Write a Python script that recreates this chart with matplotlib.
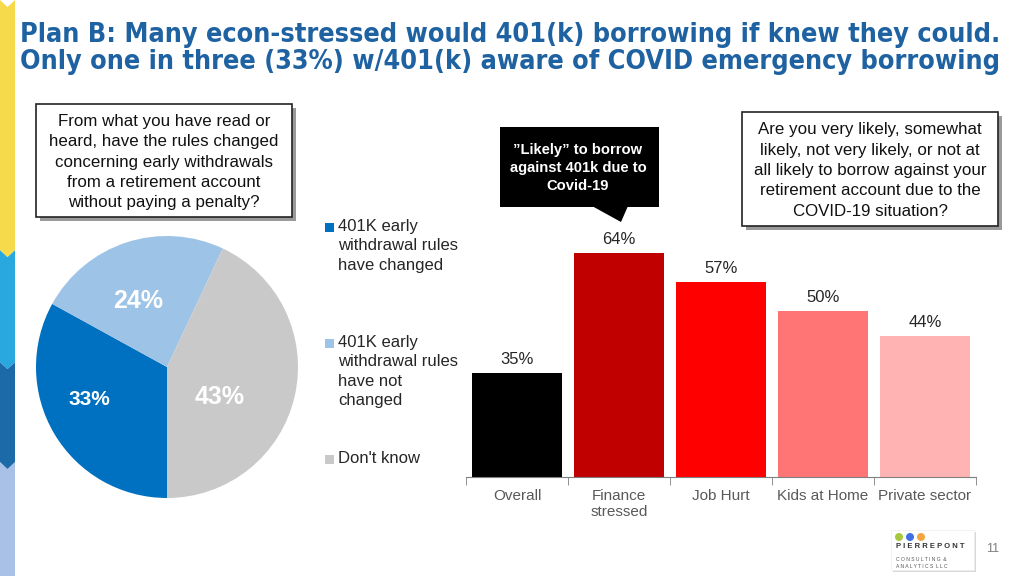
import matplotlib
matplotlib.use('Agg')
import matplotlib.pyplot as plt  # noqa E402
from matplotlib.patches import Rectangle, Polygon, Ellipse  # noqa E402

# Pie: awareness of rule change
pie_labels = ["401K early\nwithdrawal rules\nhave changed",
              "401K early\nwithdrawal rules\nhave not\nchanged",
              "Don't know"]
pie_values = [33, 24, 43]
pie_colors = ["#0070C0", "#9DC3E6", "#C9C9C9"]

# Bars: likely to borrow against 401k
bar_cats = ["Overall", "Finance\nstressed", "Job Hurt", "Kids at Home",
            "Private sector"]
bar_values = [35, 64, 57, 50, 44]
bar_colors = ["#000000", "#C00000", "#FF0000", "#FF7575", "#FFB3B3"]

TITLE = ("Plan B: Many econ-stressed would 401(k) borrowing if knew they could.\n"
         "Only one in three (33%) w/401(k) aware of COVID emergency borrowing")
LEFT_Q = ("From what you have read or\nheard, have the rules changed\n"
          "concerning early withdrawals\nfrom a retirement account\n"
          "without paying a penalty?")
RIGHT_Q = ("Are you very likely, somewhat\nlikely, not very likely, or not at\n"
           "all likely to borrow against your\nretirement account due to the\n"
           "COVID-19 situation?")
CALLOUT = "\u201dLikely\u201d to borrow\nagainst 401k due to\nCovid-19"

W, H = 1024, 576
plt.rcParams['font.family'] = ['Liberation Sans', 'DejaVu Sans']
fig = plt.figure(figsize=(W / 100, H / 100), dpi=100)


def fx(px):
    return px / W


def fy(py):
    return 1 - py / H


# Left decorative strip with chevrons
strip = [(0, 250, "#F7D94C"), (250, 362, "#29A8E0"),
         (362, 462, "#1D6AA8"), (462, 600, "#A9C0E7")]
sw, d = 15, 7
for i, (top, bot, col) in enumerate(reversed(strip)):
    pts = [(0, top), (sw / 2, top + d), (sw, top), (sw, bot),
           (sw / 2, bot + d), (0, bot)]
    fig.patches.append(Polygon([(fx(x), fy(y)) for x, y in pts],
                               closed=True, transform=fig.transFigure,
                               facecolor=col, edgecolor='none', zorder=i))

# Title (condensed face to mimic the narrow bold font)
fig.text(fx(20), fy(22), TITLE, ha='left', va='top', fontsize=19.4,
         fontweight='bold', fontstretch='condensed', color='#1F62A2',
         linespacing=1.05, family=['DejaVu Sans'])


def question_box(x0, y0, x1, y1, text, size):
    sh = Rectangle((fx(x0 + 4), fy(y1 + 4)), fx(x1 - x0), (y1 - y0) / H,
                   transform=fig.transFigure, facecolor='#9A9A9A',
                   edgecolor='none', zorder=1)
    bx = Rectangle((fx(x0), fy(y1)), fx(x1 - x0), (y1 - y0) / H,
                   transform=fig.transFigure, facecolor='white',
                   edgecolor='#222222', linewidth=1.2, zorder=2)
    fig.patches.extend([sh, bx])
    fig.text(fx((x0 + x1) / 2), fy((y0 + y1) / 2 + 1.5), text, ha='center',
             va='center', fontsize=size, color='#111111', linespacing=1.45,
             zorder=3)


question_box(36, 104, 292, 217, LEFT_Q, 12.2)
question_box(742, 112, 998, 226, RIGHT_Q, 12.2)

# Callout (black speech box)
fig.patches.append(Rectangle((fx(500), fy(207)), fx(159), 80 / H,
                             transform=fig.transFigure, facecolor='black',
                             edgecolor='none'))
fig.patches.append(Polygon([(fx(592), fy(206)), (fx(628), fy(206)),
                            (fx(621), fy(222))], closed=True,
                           transform=fig.transFigure, facecolor='black',
                           edgecolor='none'))
fig.text(fx(578), fy(168), CALLOUT, ha='center', va='center', fontsize=10.6,
         fontweight='bold', color='white', linespacing=1.35)

# Pie chart
ax_pie = fig.add_axes([fx(36), fy(498), fx(262), 262 / H])
wedges, _, autotexts = ax_pie.pie(pie_values, colors=pie_colors,
                                  startangle=-90, counterclock=False,
                                  autopct='%d%%', pctdistance=0.6,
                                  wedgeprops=dict(linewidth=0))
ax_pie.set_xlim(-1, 1)
ax_pie.set_ylim(-1, 1)
ax_pie.set_aspect('equal')
label_pos = [(-0.59, -0.25), (-0.22, 0.50), (0.40, -0.23)]
label_size = [15, 18, 18]
for t, pos, sz in zip(autotexts, label_pos, label_size):
    t.set_position(pos)
    t.set_color('white')
    t.set_fontweight('bold')
    t.set_fontsize(sz)
    t.set_ha('center')
    t.set_va('center')

# Legend drawn by hand (uneven spacing in the original)
leg_tops = [219, 335, 451]
for lab, col, top in zip(pie_labels, pie_colors, leg_tops):
    fig.patches.append(Rectangle((fx(325), fy(top + 13)), fx(9), 9 / H,
                                 transform=fig.transFigure, facecolor=col,
                                 edgecolor='none'))
    fig.text(fx(338), fy(top), lab, ha='left', va='top', fontsize=12,
             color='#262626', linespacing=1.36)

# Bar chart
ax = fig.add_axes([fx(466), fy(477), fx(510), 248.6 / H])
x = range(len(bar_values))
ax.bar(x, bar_values, width=0.89, color=bar_colors, bottom=0)
ax.set_ylim(10, 70)
ax.set_xlim(-0.5, len(bar_values) - 0.5)
for i, v in zip(x, bar_values):
    ax.text(i, v + 1.5, f"{v}%", ha='center', va='bottom', fontsize=12,
            color='#262626')
for s in ['top', 'right', 'left']:
    ax.spines[s].set_visible(False)
ax.spines['bottom'].set_color('#7F7F7F')
ax.set_yticks([])
ax.set_xticks(list(x))
ax.set_xticklabels(bar_cats, fontsize=11, color='#595959', linespacing=1.1)
ax.tick_params(axis='x', which='major', length=0, pad=9)
ax.set_xticks([i - 0.5 for i in range(len(bar_values) + 1)], minor=True)
ax.tick_params(axis='x', which='minor', length=6, color='#7F7F7F',
               direction='out')

# Logo and page number
fig.patches.append(Rectangle((fx(893), fy(572)), fx(83), 40 / H,
                             transform=fig.transFigure, facecolor='#D9D9D9',
                             edgecolor='none'))
fig.patches.append(Rectangle((fx(891), fy(570)), fx(83), 40 / H,
                             transform=fig.transFigure, facecolor='white',
                             edgecolor='#EEEEEE', linewidth=0.5))
for cx, col in zip([899, 910, 921], ["#A5C83C", "#3E6FE3", "#F3A53F"]):
    fig.patches.append(Ellipse((fx(cx), fy(537)), 8 / W, 8 / H,
                               transform=fig.transFigure, facecolor=col,
                               edgecolor='none'))
fig.text(fx(896), fy(547), "P I E R R E P O N T", ha='left', va='center',
         fontsize=5.5, color='#333333', fontweight='bold')
fig.text(fx(896), fy(563), "C O N S U L T I N G  &\nA N A L Y T I C S  L L C",
         ha='left', va='center', fontsize=3.6, color='#555555',
         linespacing=1.4)
fig.text(fx(993), fy(549), "11", ha='center', va='center', fontsize=9,
         color='#7F7F7F')

fig.savefig('out.png', dpi=100, facecolor='white')
plt.close(fig)
